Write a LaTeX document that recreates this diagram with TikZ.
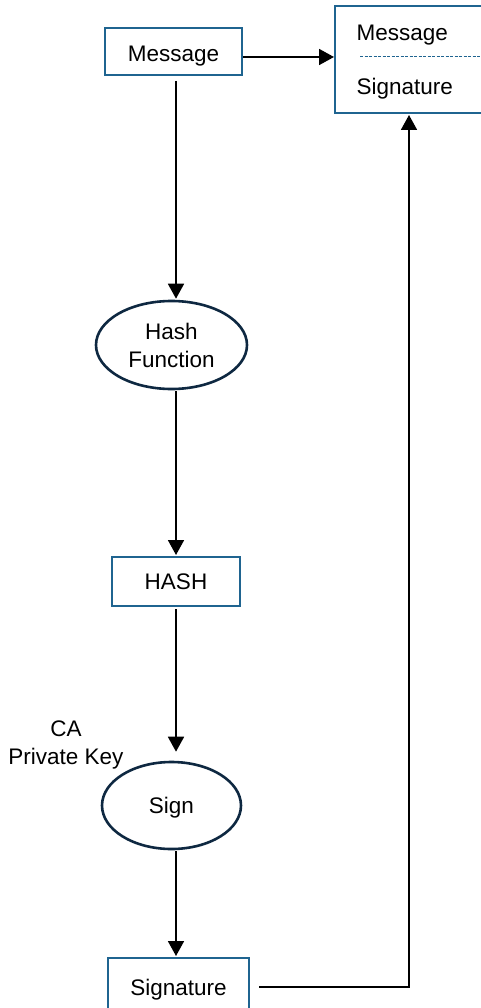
\documentclass[tikz,border=0pt]{standalone}
\usepackage{fontspec}
\setmainfont{Liberation Sans}
\usetikzlibrary{arrows.meta,shapes.geometric}
\definecolor{boxblue}{HTML}{1F6490}
\definecolor{ellnavy}{HTML}{0E2841}
\begin{document}
\begin{tikzpicture}[x=1pt,y=-1pt,
  every node/.style={font=\fontsize{22.5}{28}\selectfont, text=black},
  boxnode/.style={draw=boxblue, line width=2pt, rectangle, inner sep=0pt, align=center},
  ellnode/.style={draw=ellnavy, line width=2.6pt, ellipse, inner sep=0pt, align=center},
  arr/.style={line width=1.8pt, -{Triangle[length=15pt,width=16pt]}}]
\useasboundingbox (0,0) rectangle (481,1008);
\node[boxnode, minimum width=137pt, minimum height=47pt, text height=20pt, text depth=0pt] (msg) at (173.5,51.5) {Message};
\node[boxnode, minimum width=160pt, minimum height=107pt] (out) at (415,59.5) {};
\node[anchor=west] (outmsg) at (353,35) {Message};
\node[anchor=west] (outsig) at (353,89) {Signature};
\coordinate (dashL) at (360,56);
\coordinate (dashR) at (481,56);
\draw[boxblue, line width=0.8pt, dash pattern=on 3pt off 1.5pt] (dashL) -- (dashR);
\node[ellnode, minimum width=151pt, minimum height=88pt] (hashf) at (171.5,345) {Hash\\Function};
\node[boxnode, minimum width=128pt, minimum height=49pt] (hash) at (176,581.5) {HASH};
\node[ellnode, minimum width=139pt, minimum height=87pt, text height=18pt, text depth=2pt] (sign) at (171.5,805.5) {Sign};
\node[align=center] (ca) at (66,745) {CA\\Private Key};
\node[boxnode, minimum width=141pt, minimum height=58pt, text height=16pt, text depth=0pt] (sig) at (178.5,987) {Signature};
\coordinate (corner) at (409,987);
\draw[arr] ([xshift=2.5pt,yshift=-5pt]msg.south) -- ([xshift=4.5pt,yshift=1pt]hashf.north);
\draw[arr] ([xshift=4.5pt,yshift=-1pt]hashf.south) -- ([yshift=1pt]hash.north);
\draw[arr] ([yshift=-2pt]hash.south) -- ([xshift=4.5pt,yshift=9pt]sign.north);
\draw[arr] ([xshift=4.5pt,yshift=-1pt]sign.south) -- ([xshift=-2.5pt,yshift=1pt]sig.north);
\draw[arr] ([yshift=-5.5pt]msg.east) -- ([yshift=-5.5pt]msg.east -| out.west);
\draw[arr] ([xshift=9pt]sig.east) -- (corner) -- ([yshift=-1pt]corner |- out.south);
\end{tikzpicture}
\end{document}
